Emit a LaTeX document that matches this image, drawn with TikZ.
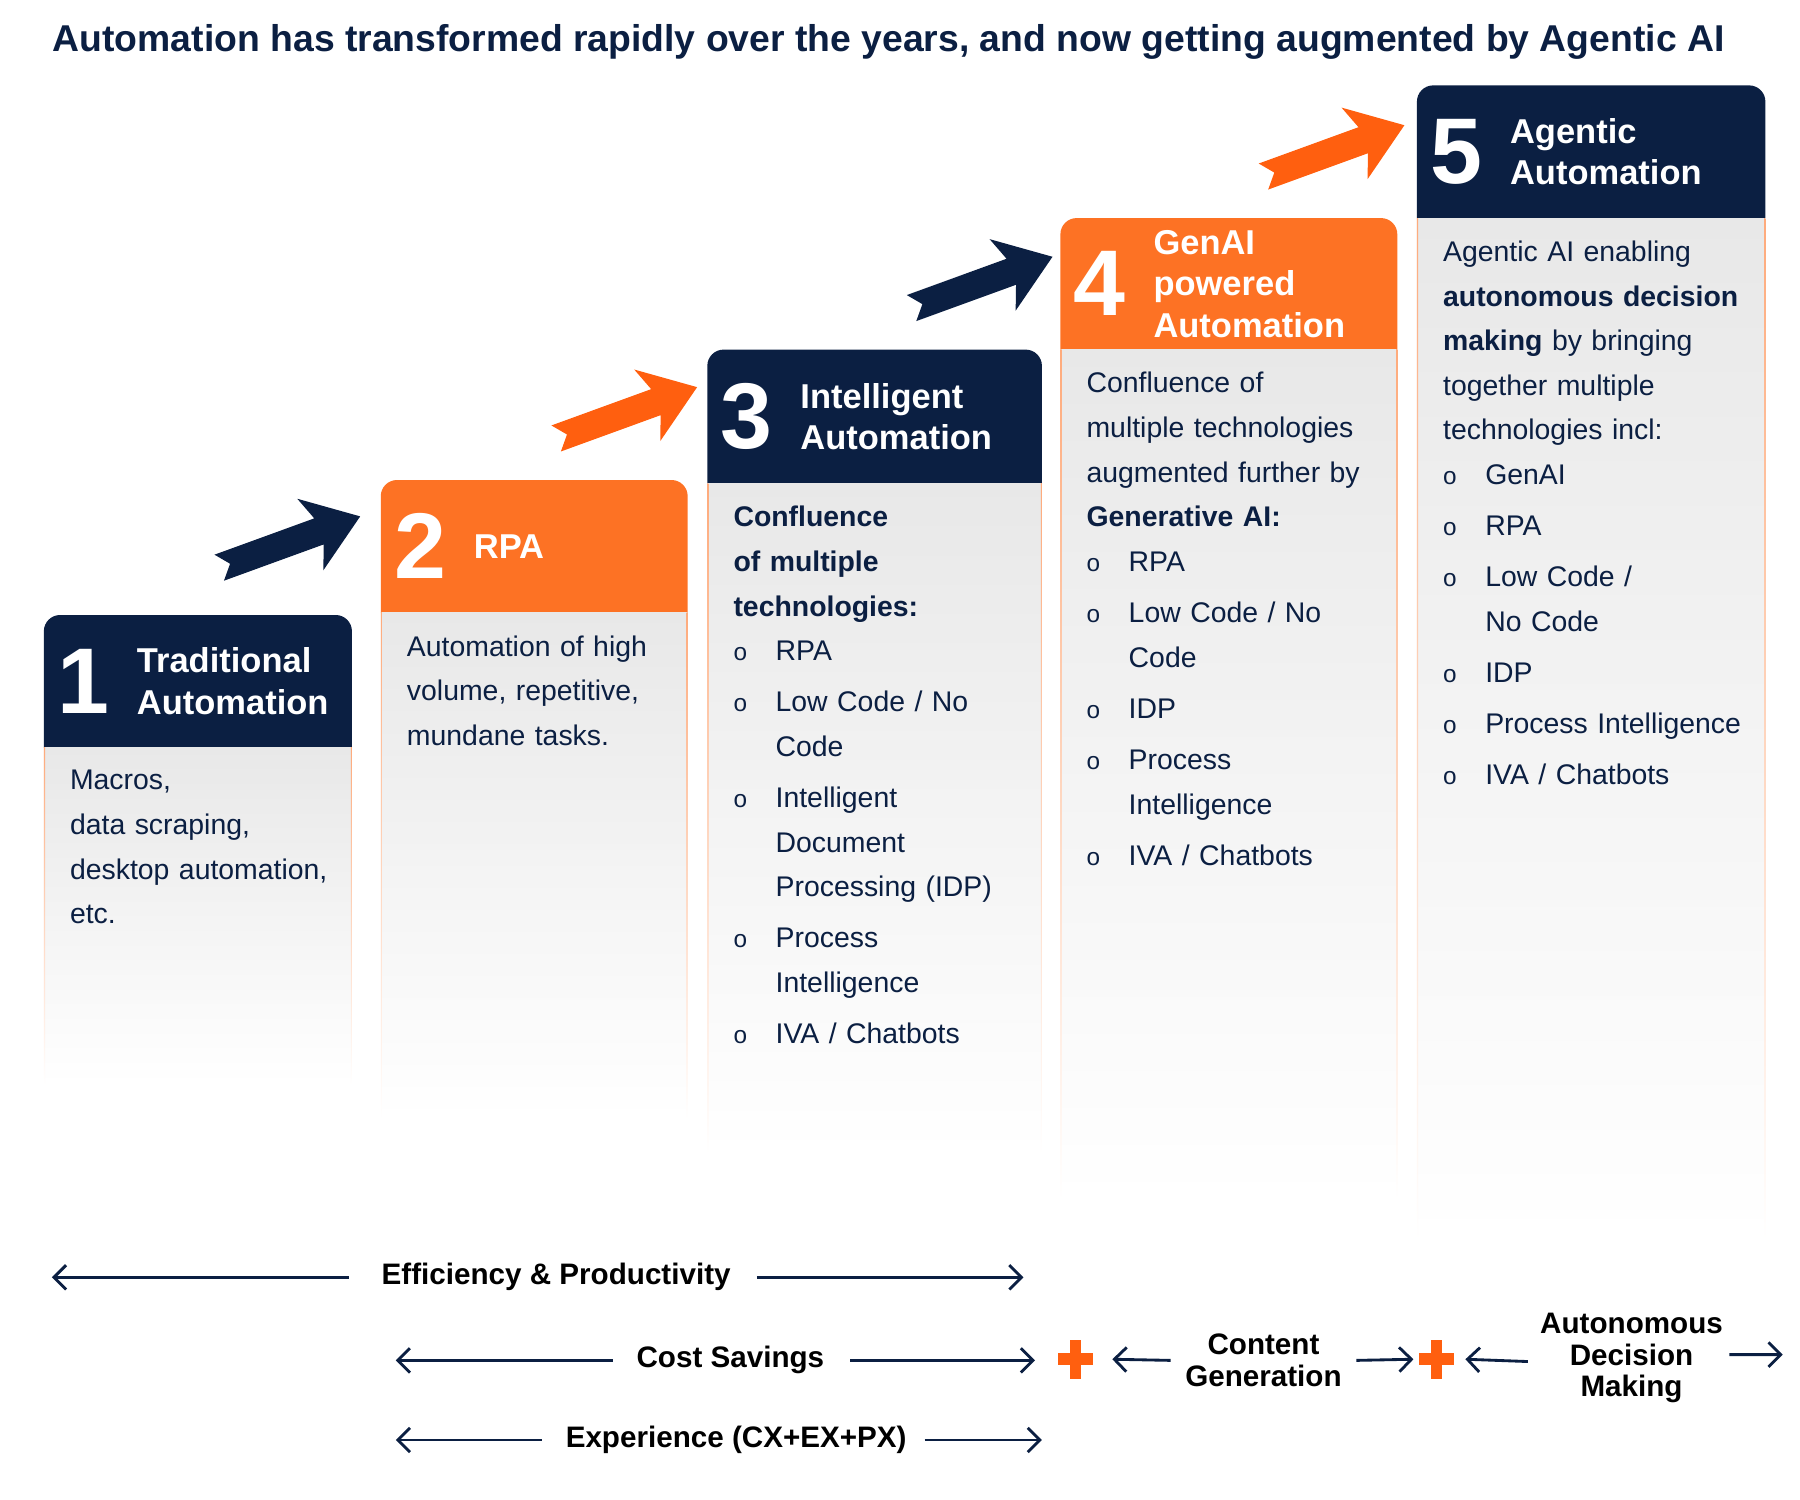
\documentclass[tikz,border=0pt]{standalone}
\usepackage{fontspec}
\setmainfont{Liberation Sans}
\usetikzlibrary{arrows.meta}
\hyphenpenalty=10000
\exhyphenpenalty=10000
\definecolor{navy}{HTML}{0B1F42}
\definecolor{orng}{HTML}{FD7224}
\definecolor{orarrow}{HTML}{FF5F0F}
\tikzset{
  num/.style={text=white, font=\fontsize{23}{23}\selectfont\bfseries, inner sep=0pt},
  head/.style={text=white, font=\fontsize{8.5}{10.2}\selectfont\bfseries, align=left, inner sep=0pt},
  body/.style={text=navy, font=\fontsize{7}{11}\selectfont, align=left, inner sep=0pt, anchor=north west},
  lbl/.style={font=\fontsize{7.3}{7.8}\selectfont\bfseries, align=center, inner sep=0pt},
  ln/.style={navy, line width=0.7pt, -{Straight Barb[length=3pt,width=6pt]}},
}
\newenvironment{blist}{\begin{list}{}{\leftmargin=0.365cm \labelwidth=0.365cm \labelsep=0pt
  \itemsep=1.6pt \topsep=0pt \parsep=0pt \partopsep=0pt
  \renewcommand\makelabel[1]{\makebox[0.365cm][l]{\fontsize{6}{6}\selectfont o}}}}{\end{list}}
% stage box: name, x1, x2, top, header bottom, bottom, colour, number, title
\newcommand\stage[9]{%
  \fill[#7] (#2,#5) [rounded corners=4pt]-- (#2,#4) -- (#3,#4) [sharp corners]-- (#3,#5) -- cycle;
  \shade[top color=black!9, bottom color=white] (#2,#5) rectangle (#3,#6);
  \shade[top color=orng!60, bottom color=white] (#2,#5) rectangle (#2+1,#6);
  \shade[top color=orng!60, bottom color=white] (#3-1,#5) rectangle (#3,#6);
  \node[num] (#1n) at (#2+34,{(#4+#5)/2}) {#8};
  \node[head, anchor=west] (#1t) at (#2+80,{(#4+#5)/2}) {#9};
  \coordinate (#1b) at (#2+22,#5+19);
}
% block arrow from tail point
\newcommand\blockarrow[2]{%
  \fill[#2, shift={(#1)}, rotate=20] (0,-12) -- (92,-12) -- (84,-33) -- (130,0) -- (84,33) -- (92,12) -- (0,12) -- (10,0) -- cycle;
}
\begin{document}
\begin{tikzpicture}[x=0.01cm, y=-0.01cm]
\useasboundingbox (0,0) rectangle (1560,1300);
\node[anchor=west, text=navy, font=\fontsize{9.2}{10}\selectfont\bfseries, inner sep=0pt] (title) at (45,36)
  {Automation has transformed rapidly over the years, and now getting augmented by Agentic AI};

\stage{s1}{38}{305}{533}{648}{940}{navy}{1}{Traditional\\Automation}
\stage{s2}{330}{596}{416}{531}{970}{orng}{2}{RPA}
\stage{s3}{613}{903}{303}{419}{1000}{navy}{3}{Intelligent\\Automation}
\stage{s4}{919}{1211}{189}{303}{1040}{orng}{4}{GenAI\\powered\\Automation}
\stage{s5}{1228}{1530}{74}{189}{1075}{navy}{5}{Agentic\\Automation}

\node[body, text width=2.4cm] (s1body) at (s1b) {Macros,\\data scraping,\\desktop automation,\\etc.};
\node[body, text width=2.3cm] (s2body) at (s2b) {Automation of high volume, repetitive, mundane tasks.};
\node[body, text width=2.5cm] (s3body) at (s3b) {\textbf{Confluence of multiple technologies:}
  \begin{blist}\item RPA \item Low Code / No Code \item Intelligent Document Processing (IDP)
  \item Process Intelligence \item IVA / Chatbots\end{blist}};
\node[body, text width=2.58cm] (s4body) at (s4b) {Confluence of multiple technologies augmented further by \textbf{Generative AI:}
  \begin{blist}\item RPA \item Low Code / No Code \item IDP \item Process Intelligence \item IVA / Chatbots\end{blist}};
\node[body, text width=2.7cm] (s5body) at (s5b) {Agentic AI enabling \textbf{autonomous decision making} by bringing together multiple technologies incl:
  \begin{blist}\item GenAI \item RPA \item Low Code /\\No Code \item IDP \item Process Intelligence \item IVA / Chatbots\end{blist}};

\coordinate (a1) at (190,492);
\coordinate (a2) at (482,380);
\coordinate (a3) at (790,267);
\coordinate (a4) at (1095,153);
\blockarrow{a1}{navy}
\blockarrow{a2}{orarrow}
\blockarrow{a3}{navy}
\blockarrow{a4}{orarrow}

% bottom benefits
\node[lbl] (eff) at (482,1107) {Efficiency \& Productivity};
\node[lbl] (cost) at (633,1179) {Cost Savings};
\node[lbl] (exp) at (638,1248) {Experience (CX+EX+PX)};
\node[lbl] (cont) at (1095,1179) {Content\\Generation};
\node[lbl] (auto) at (1414,1177) {Autonomous\\Decision\\Making};
\coordinate (p1) at (932,1178);
\coordinate (p2) at (1245,1178);
\foreach \p in {p1,p2} {
  \fill[orarrow] ([xshift=-0.05cm,yshift=-0.17cm]\p) rectangle ([xshift=0.05cm,yshift=0.17cm]\p);
  \fill[orarrow] ([xshift=-0.15cm,yshift=-0.05cm]\p) rectangle ([xshift=0.15cm,yshift=0.05cm]\p);
}
\coordinate (e0) at (45,1107);   \coordinate (e1) at (887,1107);
\coordinate (c0) at (343,1179);  \coordinate (c1) at (897,1179);
\coordinate (x0) at (343,1248);  \coordinate (x1) at (903,1248);
\coordinate (m0) at (1545,1174);
\draw[ln] ([xshift=-0.28cm]eff.west) -- (e0);
\draw[ln] ([xshift=0.22cm]eff.east) -- (e1);
\draw[ln] ([xshift=-0.2cm]cost.west) -- (c0);
\draw[ln] ([xshift=0.22cm]cost.east) -- (c1);
\draw[ln] ([xshift=-0.2cm]exp.west) -- (x0);
\draw[ln] ([xshift=0.15cm]exp.east) -- (x1);
\draw[ln] ([xshift=-0.12cm]cont.west) -- ([xshift=0.32cm]p1);
\draw[ln] ([xshift=0.12cm]cont.east) -- ([xshift=-0.2cm]p2);
\draw[ln] ([xshift=-0.1cm,yshift=-0.03cm]auto.west) -- ([xshift=0.25cm]p2);
\draw[ln] ([xshift=0.05cm,yshift=0.03cm]auto.east) -- (m0);
\end{tikzpicture}
\end{document}
